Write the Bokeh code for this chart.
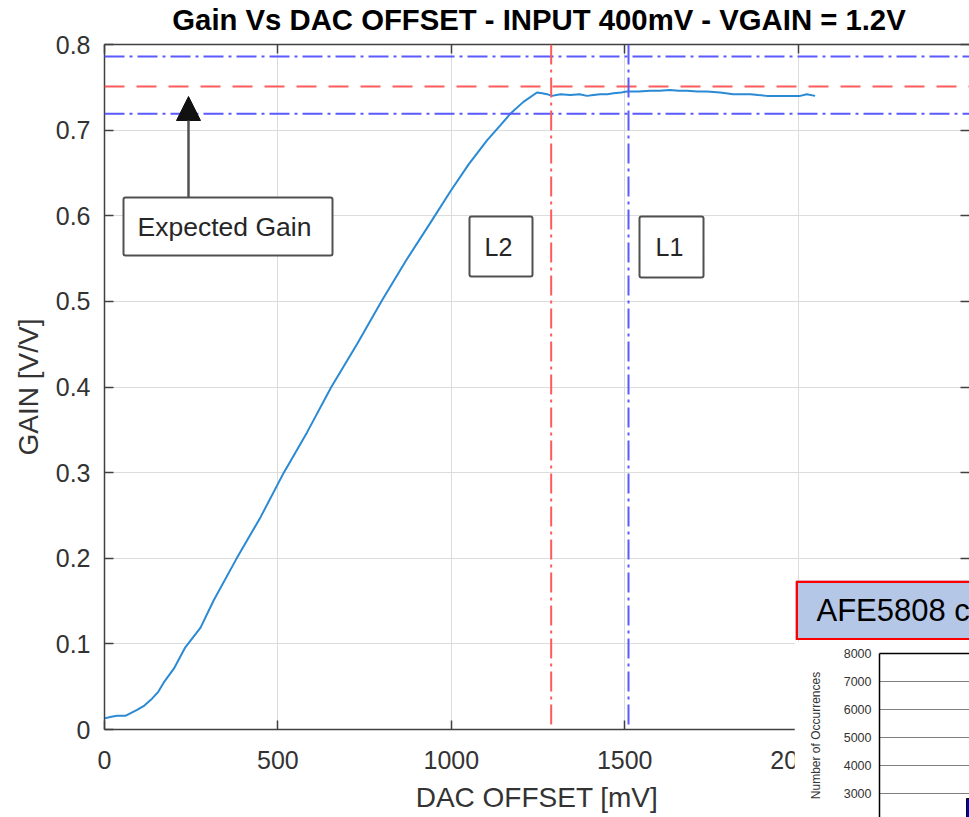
import math

from bokeh.plotting import figure
from bokeh.models import (Range1d, LinearAxis, FixedTicker, NumeralTickFormatter,
                          Span, BoxAnnotation, Label, Arrow, NormalHead, GridBox, Column)
from bokeh.embed import file_html
from bokeh.resources import INLINE

# ---- measured gain vs DAC offset (input 400 mV, VGAIN = 1.2 V) ----
dac_offset_mv = [0, 20, 36, 60, 94, 115, 137, 155, 171, 200, 233, 277, 315, 380,
                 450, 517, 584, 654, 728, 800, 870, 940, 1000, 1050, 1103, 1140,
                 1170, 1208, 1247, 1262, 1276, 1290, 1315, 1343, 1370, 1391, 1410,
                 1429, 1450, 1468, 1490, 1506, 1540, 1573, 1600, 1631, 1655, 1679,
                 1710, 1737, 1775, 1813, 1840, 1862, 1885, 1910, 1935, 1958, 1985,
                 2006, 2025, 2049]
gain_vv = [0.013, 0.015, 0.016, 0.016, 0.023, 0.028, 0.036, 0.044, 0.055, 0.071,
           0.096, 0.119, 0.151, 0.199, 0.248, 0.300, 0.347, 0.400, 0.450, 0.501,
           0.548, 0.592, 0.630, 0.660, 0.688, 0.705, 0.719, 0.733, 0.744, 0.743,
           0.742, 0.740, 0.742, 0.741, 0.742, 0.740, 0.741, 0.742, 0.742, 0.743,
           0.744, 0.745, 0.745, 0.746, 0.746, 0.747, 0.746, 0.746, 0.745, 0.745,
           0.744, 0.742, 0.742, 0.742, 0.741, 0.740, 0.740, 0.740, 0.740, 0.740,
           0.742, 0.740]

expected_gain = 0.751
gain_upper = 0.786
gain_lower = 0.719
l2_offset_mv = 1288
l1_offset_mv = 1511

x_ticks = [0, 500, 1000, 1500, 2000]
y_ticks = [0, 0.1, 0.2, 0.3, 0.4, 0.5, 0.6, 0.7, 0.8]

# histogram panel (occurrence counts)
hist_ticks = [8000, 7000, 6000, 5000, 4000, 3000]
hist_bar_left = 29
hist_bar_count = 2820

TITLE = "Gain Vs DAC OFFSET - INPUT 400mV - VGAIN = 1.2V"

# ---- canvas / frame geometry ----
W, H = 969, 817
FL, FR, FT, FB = 104, 969, 44, 729
PX_PER_MV = 0.3468
X_END = (FR - FL) / PX_PER_MV
Y_END = 0.8

FONT = "Liberation Sans"
DARK = "#333333"
AX = "#404040"


def cx(px):
    """canvas x pixel -> data x of the main plot"""
    return (px - FL) / (FR - FL) * X_END


def cy(py):
    """canvas y pixel -> data y of the main plot"""
    return (FB - py) / (FB - FT) * Y_END


def blank_figure(w, h, fill=None):
    """axis-less figure whose frame covers the whole canvas, in pixel units (y up)"""
    f = figure(width=w, height=h, x_range=Range1d(0, w), y_range=Range1d(0, h),
               x_axis_type=None, y_axis_type=None, output_backend="svg",
               toolbar_location=None, min_border_left=0, min_border_right=0,
               min_border_top=0, min_border_bottom=0)
    f.outline_line_color = None
    f.grid.visible = False
    if fill is None:
        f.background_fill_alpha = 0
        f.border_fill_alpha = 0
    else:
        f.background_fill_color = fill
        f.border_fill_color = fill
    return f


p = figure(width=W, height=H, x_range=Range1d(0, X_END), y_range=Range1d(0, Y_END),
           output_backend="svg", toolbar_location=None,
           min_border_left=FL, min_border_right=0, min_border_top=FT,
           min_border_bottom=H - FB)
p.background_fill_color = "white"
p.border_fill_color = "white"
p.outline_line_color = None
try:
    p.title = None
except Exception:
    p.title.text = ""


def style_axis(ax):
    ax.axis_line_color = AX
    ax.axis_line_width = 1.5
    for kind in ("major", "minor"):
        setattr(ax, f"{kind}_tick_line_color", AX)
        setattr(ax, f"{kind}_tick_line_width", 1.5)
        setattr(ax, f"{kind}_tick_in", 9)
        setattr(ax, f"{kind}_tick_out", 0)
    ax.major_label_text_font = FONT
    ax.major_label_text_color = DARK
    ax.major_label_text_font_size = "25px"
    ax.axis_label_text_font = FONT
    ax.axis_label_text_color = DARK
    ax.axis_label_text_font_style = "normal"
    ax.axis_label_text_font_size = "28px"


xax = p.xaxis[0]
style_axis(xax)
xax.ticker = FixedTicker(ticks=x_ticks)
xax.axis_label = "DAC OFFSET [mV]"
xax.major_label_standoff = 21
xax.axis_label_standoff = 10

yax = p.yaxis[0]
style_axis(yax)
yax.ticker = FixedTicker(ticks=y_ticks)
yax.formatter = NumeralTickFormatter(format="0.[0]")
yax.axis_label = "GAIN [V/V]"
yax.major_label_standoff = 14
yax.axis_label_standoff = 9

# box edges: tick marks only (no labels) on the top and right sides
top_ax = LinearAxis(ticker=FixedTicker(ticks=[], minor_ticks=x_ticks))
style_axis(top_ax)
top_ax.major_label_standoff = 0
p.add_layout(top_ax, "above")

right_ax = LinearAxis(ticker=FixedTicker(ticks=[], minor_ticks=y_ticks))
style_axis(right_ax)
right_ax.axis_line_color = None
right_ax.major_label_standoff = 0
p.add_layout(right_ax, "right")

p.xgrid.ticker = FixedTicker(ticks=x_ticks)
p.ygrid.ticker = FixedTicker(ticks=y_ticks)
for g in (p.xgrid, p.ygrid):
    g.grid_line_color = "#dcdcdc"
    g.grid_line_width = 1

# ---- reference lines ----
DASHDOT = "20 5 3 5"
p.add_layout(Span(location=gain_upper, dimension="width", line_color="#5a5aff",
                  line_width=2, line_dash=DASHDOT))
p.add_layout(Span(location=expected_gain, dimension="width", line_color="#ff5a5a",
                  line_width=2, line_dash="20 12"))
p.add_layout(Span(location=gain_lower, dimension="width", line_color="#5a5aff",
                  line_width=2, line_dash=DASHDOT))
p.add_layout(Span(location=l2_offset_mv, dimension="height", line_color="#ff5a5a",
                  line_width=2, line_dash=DASHDOT))
p.add_layout(Span(location=l1_offset_mv, dimension="height", line_color="#5a5aff",
                  line_width=2, line_dash=DASHDOT))

# ---- measured curve ----
p.line(dac_offset_mv, gain_vv, line_color="#2a8ad4", line_width=2)

# ---- text boxes and arrow ----
BOX_LINE = "#505050"


def text_box(left, right, top, bottom, text, size, text_x=None):
    p.add_layout(BoxAnnotation(left=cx(left), right=cx(right), top=cy(top), bottom=cy(bottom),
                               fill_color="white", fill_alpha=1, line_color=BOX_LINE,
                               line_alpha=1, line_width=2, border_radius=2))
    tx = (left + right) / 2 if text_x is None else text_x
    p.add_layout(Label(x=cx(tx), y=cy((top + bottom) / 2), text=text,
                       text_align="center", text_baseline="middle", text_font=FONT,
                       text_font_size=size, text_color="#262626"))


text_box(123, 332, 197, 255, "Expected Gain", "26.5px", text_x=224)
text_box(469, 532, 216, 276, "L2", "25px", text_x=498)
text_box(639, 703, 216, 277, "L1", "25px", text_x=669)

p.add_layout(Arrow(x_start=cx(188), y_start=cy(197), x_end=cx(188), y_end=cy(96),
                   line_color=BOX_LINE, line_width=2.5,
                   end=NormalHead(size=24, fill_color="#111111", line_color="#111111")))

# ---- chart title (transparent strip above the frame) ----
TITLE_H = 44
TITLE_MID = 18.5      # vertical centre of the capitals, from the top
title_fig = blank_figure(W, TITLE_H)
title_fig.add_layout(Label(x=538.5, y=TITLE_H - TITLE_MID, text=TITLE, text_align="center",
                           text_baseline="middle", text_font=FONT,
                           text_font_size="29.3px", text_font_style="bold",
                           text_color="black"))

# ---- histogram panel overlapping the lower right corner ----
BADGE_L, BADGE_T, BADGE_W, BADGE_H = 795, 580, W - 795, 60
badge = blank_figure(BADGE_W, BADGE_H, fill="#b4c7e7")
badge.add_layout(BoxAnnotation(left=1.25, right=BADGE_W + 20, bottom=1.25, top=BADGE_H - 1.25,
                               fill_alpha=0, line_color="#ff0000", line_alpha=1,
                               line_width=2.5))
badge.add_layout(Label(x=816 - BADGE_L, y=BADGE_H / 2, text="AFE5808 c", text_align="left",
                       text_baseline="middle", text_font=FONT, text_font_size="31px",
                       text_color="black"))

HIST_L, HIST_T = 794, 641
HIST_W, HIST_H = W - HIST_L, H - HIST_T
HIST_FL, HIST_FT = 879 - HIST_L, 653 - HIST_T
PX_PER_COUNT = 0.028
hist_y_start = hist_ticks[0] - (HIST_H - HIST_FT) / PX_PER_COUNT

hist = figure(width=HIST_W, height=HIST_H, x_range=Range1d(0, 30),
              y_range=Range1d(hist_y_start, hist_ticks[0]), x_axis_type=None,
              output_backend="svg", toolbar_location=None,
              min_border_left=HIST_FL, min_border_top=HIST_FT,
              min_border_right=0, min_border_bottom=0)
hist.background_fill_color = "white"
hist.border_fill_color = "white"
hist.outline_line_color = None
hist.xgrid.visible = False
hist.ygrid.ticker = FixedTicker(ticks=hist_ticks)
hist.ygrid.grid_line_color = "#7f7f7f"
hist.ygrid.grid_line_width = 1

hax = hist.yaxis[0]
hax.ticker = FixedTicker(ticks=hist_ticks)
hax.formatter = NumeralTickFormatter(format="0")
hax.axis_line_color = "black"
hax.axis_line_width = 1.5
hax.major_tick_line_color = None
hax.minor_tick_line_color = None
hax.major_tick_out = 0
hax.major_label_standoff = 8
hax.major_label_text_font = FONT
hax.major_label_text_font_size = "12.5px"
hax.major_label_text_color = DARK
hax.axis_label = "Number of Occurrences"
hax.axis_label_text_font = FONT
hax.axis_label_text_font_size = "12px"
hax.axis_label_text_font_style = "normal"
hax.axis_label_text_color = DARK
hax.axis_label_standoff = 18

hist_top = LinearAxis(ticker=FixedTicker(ticks=[]))
hist_top.axis_line_color = "black"
hist_top.axis_line_width = 1.5
hist_top.major_tick_line_color = None
hist_top.minor_tick_line_color = None
hist_top.major_label_standoff = 0
hist.add_layout(hist_top, "above")

hist.quad(left=[hist_bar_left], right=[hist_bar_left + 5], bottom=[0], top=[hist_bar_count],
          fill_color="#0000cc", line_color="black", line_width=1)

# overlays share the grid cell of the main plot; wrapping keeps their frames independent
overlays = [Column(children=[title_fig], margin=(0, 0, 0, 0)),
            Column(children=[badge], margin=(BADGE_T, 0, 0, BADGE_L)),
            Column(children=[hist], margin=(HIST_T, 0, 0, HIST_L))]

root = GridBox(children=[(p, 0, 0)] + [(o, 0, 0) for o in overlays], spacing=0)

open("out.html", "w").write(file_html(root, INLINE))
